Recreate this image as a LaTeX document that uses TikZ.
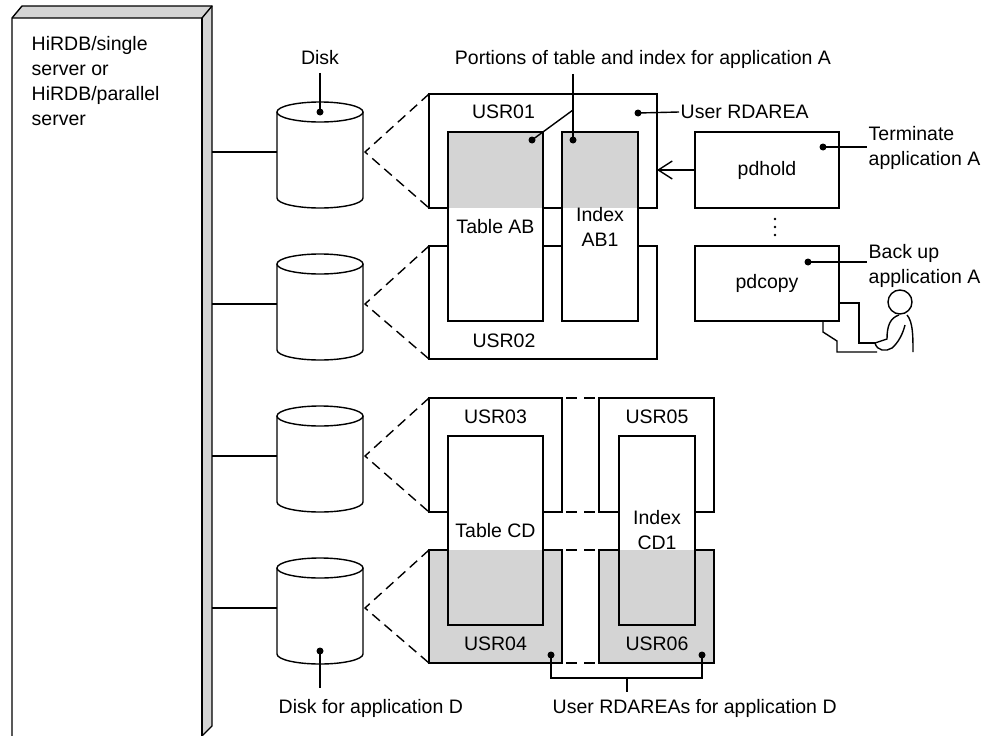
\documentclass[tikz,border=0pt]{standalone}
\usepackage{fontspec}
\setmainfont{Liberation Sans}
\usetikzlibrary{arrows.meta,positioning}

\begin{document}
\begin{tikzpicture}[
  x=1pt, y=-1pt,
  font=\fontsize{19.5}{25}\selectfont,
  line width=1.4pt,
  area/.style={draw, fill=white, inner sep=0pt, outer sep=0pt, align=center},
  grayfill/.style={fill=black!17},
  txt/.style={inner sep=1pt, align=center},
  blob/.style={circle, fill, inner sep=0pt, minimum size=7pt},
  zoomline/.style={dash pattern=on 10pt off 6pt},
  bridge/.style={dash pattern=on 11pt off 7pt, dash phase=14pt},
  >={Straight Barb[length=14pt,width=18pt]},
  disk/.pic={
    \draw[fill=white] (-43,0) -- (-43,86) arc[start angle=180,end angle=0,x radius=43,y radius=10] -- (43,0);
    \draw[fill=white] (0,0) ellipse[x radius=43,y radius=10];
    \coordinate (-w) at (-43,40);
    \coordinate (-e) at (45,40);
    \coordinate (-top) at (0,0);
    \coordinate (-bot) at (0,83);
  },
]
\useasboundingbox (0,0) rectangle (991,736);

% server block
\node[minimum width=200pt, minimum height=718pt, inner sep=0pt, outer sep=0pt, anchor=north west] (server) at (12,18) {};
\fill[grayfill] (12,18) -- (22,6) -- (212,6) -- (212,726) -- (202,736) -- (202,18) -- cycle;
\fill[white] (12,18) rectangle (202,736);
\draw (12,736) -- (12,18) -- (22,6) -- (212,6) -- (212,726) -- (202,736);
\draw (12,18) -- (202,18) -- (212,6);
\draw (202,18) -- (202,736);
\node[txt, align=left, anchor=north west] (srvlbl) at (30,35) {HiRDB/single\\server or\\HiRDB/parallel\\server};

% disks
\pic (d1) at (320,112) {disk};
\pic (d2) at (320,264) {disk};
\pic (d3) at (320,416) {disk};
\pic (d4) at (320,568) {disk};
\foreach \d in {d1,d2,d3,d4}
  \draw (server.east |- \d-w) -- (\d-w);

% RDAREAs for application A
\node[area, minimum width=228pt, minimum height=114pt] (usr01) at (543,151) {};
\node[area, minimum width=228pt, minimum height=113pt] (usr02) at (543,302.5) {};
\node[area, minimum width=95pt, minimum height=189pt,
  path picture={\fill[grayfill] (path picture bounding box.north west) rectangle (path picture bounding box.east |- usr01.south);}]
  (tabAB) at (495.5,226.5) {Table AB};
\node[area, minimum width=76pt, minimum height=189pt,
  path picture={\fill[grayfill] (path picture bounding box.north west) rectangle (path picture bounding box.east |- usr01.south);}]
  (idxAB) at (600,226.5) {Index\\AB1};
\node[txt] (lbl01) at (503.5,112) {USR01};
\node[txt] (lbl02) at (504,341) {USR02};
\draw[zoomline] (usr01.north west) -- (d1-e) -- (usr01.south west);
\draw[zoomline] (usr02.north west) -- (d2-e) -- (usr02.south west);

% RDAREAs for application D
\node[area, minimum width=133pt, minimum height=114pt] (usr03) at (495.5,455) {};
\node[area, minimum width=115pt, minimum height=114pt] (usr05) at (656.5,455) {};
\node[area, grayfill, minimum width=133pt, minimum height=113pt] (usr04) at (495.5,606.5) {};
\node[area, grayfill, minimum width=115pt, minimum height=113pt] (usr06) at (656.5,606.5) {};
\node[area, minimum width=95pt, minimum height=189pt,
  path picture={\fill[grayfill] (path picture bounding box.west |- usr04.north) rectangle (path picture bounding box.south east);}]
  (tabCD) at (495.5,530.5) {Table CD};
\node[area, minimum width=76pt, minimum height=189pt,
  path picture={\fill[grayfill] (path picture bounding box.west |- usr04.north) rectangle (path picture bounding box.south east);}]
  (idxCD) at (657,530.5) {Index\\CD1};
\node[txt] (lbl03) at (495.5,417) {USR03};
\node[txt] (lbl05) at (657,417) {USR05};
\node[txt] (lbl04) at (495.5,644) {USR04};
\node[txt] (lbl06) at (657,644) {USR06};
\draw[bridge] (usr03.north east) -- (usr05.north west);
\draw[bridge] (usr03.south east) -- (usr05.south west);
\draw[bridge] (usr04.north east) -- (usr06.north west);
\draw[bridge] (usr04.south east) -- (usr06.south west);
\draw[zoomline] (usr03.north west) -- (d3-e) -- (usr03.south west);
\draw[zoomline] (usr04.north west) -- (d4-e) -- (usr04.south west);

% utilities
\node[area, minimum width=144pt, minimum height=76pt] (pdhold) at (767,170) {pdhold};
\node[area, minimum width=144pt, minimum height=75pt] (pdcopy) at (767,283.5) {pdcopy};
\draw[->] (pdhold.west) -- (pdhold.west -| usr01.east);
\foreach \yy in {219,227,235}
  \fill (775,\yy) circle[radius=1.3];

% terminal and operator
\draw (839,303) -- (859,303) -- (859,343) -- (875,343);
\draw (823,321) -- (823,332) -- (837,341) -- (837,352) -- (877,352);
\draw (900,302) circle[radius=12];
\draw (907,315) .. controls (913,322) and (913,336) .. (913,352);
\draw (899,315) .. controls (890,318) and (887,326) .. (887,339) -- (875,343);
\draw (875,343) .. controls (877,351) and (886,352) .. (892,348) .. controls (899,342) and (903,333) .. (905,325);

% callouts
\node[txt] (disklbl) at (320,58) {Disk};
\node[blob] (dk1) at (d1-top) {};
\draw[shorten <=6pt] (disklbl.south -| dk1) -- (dk1.center);

\node[txt] (portlbl) at (643,59) {Portions of table and index for application A};
\node[blob] (pA) at (532,140) {};
\node[blob] (pB) at (573,140) {};
\coordinate (fork) at (573,110);
\draw[shorten <=4pt] (portlbl.south -| pB) -- (pB.center);
\draw (fork) -- (pA.center);

\node[blob] (pU) at (638,113) {};
\node[txt, anchor=west] (userlbl) at (679,112) {User RDAREA};
\draw (pU.center) -- (userlbl.west);

\node[blob] (pT) at (823,147) {};
\node[txt, align=left, anchor=west] (termlbl) at (867,148) {Terminate\\application A};
\draw (pT.center) -- (pT -| termlbl.west);

\node[blob] (pC) at (808,262) {};
\node[txt, align=left, anchor=west] (copylbl) at (867,266) {Back up\\application A};
\draw (pC.center) -- (pC -| copylbl.west);

\node[blob] (dk4) at (d4-bot) {};
\node[txt, anchor=base west] (d4lbl) at (277,713) {Disk for application D};
\draw[shorten >=9pt] (dk4.center) -- (dk4 |- d4lbl.north);

\node[blob] (p4) at (551,655) {};
\node[blob] (p6) at (702,655) {};
\node[txt, anchor=base west] (rdlbl) at (551,713) {User RDAREAs for application D};
\coordinate (brk) at (627,678);
\draw (p4.center) -- (p4 |- brk) -| (p6.center);
\draw[shorten >=5pt] (brk) -- (brk |- rdlbl.north);
\end{tikzpicture}
\end{document}
